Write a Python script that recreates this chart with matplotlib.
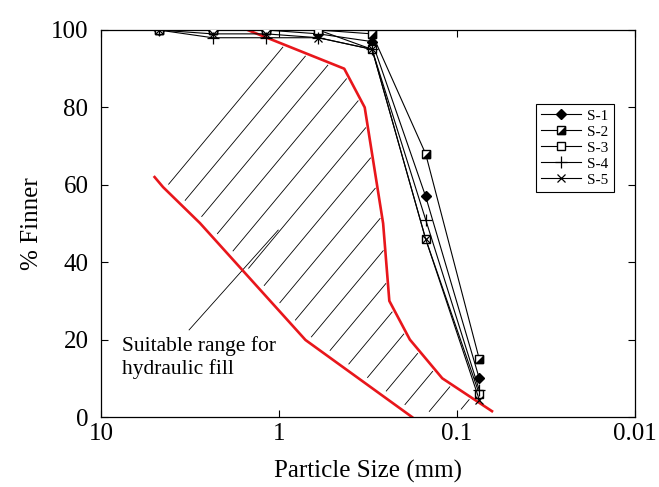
import numpy as np
import matplotlib
matplotlib.use('Agg')
from matplotlib import pyplot as plt
from matplotlib.ticker import NullLocator
from matplotlib.legend_handler import HandlerTuple

plt.rcParams['font.family'] = ['Liberation Serif', 'DejaVu Serif']

# sieve sizes (mm) and % finer for each sample
sizes = [4.75, 2.36, 1.18, 0.6, 0.3, 0.15, 0.075]
s1 = [100, 100, 100, 99, 97, 57, 10]
s2 = [100, 100, 100, 100, 99, 68, 15]
s3 = [100, 100, 100, 100, 95, 46, 6]
s4 = [100, 98, 98, 98, 95, 51, 7]
s5 = [100, 99, 99, 98, 95, 46, 4.5]

# envelope of the suitable range for hydraulic fill
fine_x = [1.5, 0.43, 0.33, 0.26, 0.24, 0.184, 0.121, 0.0636]
fine_y = [100, 90, 80, 50, 30, 20, 10, 1.5]
coarse_x = [5.0, 4.48, 2.78, 0.71, 0.179]
coarse_y = [62, 59.4, 50.1, 19.9, 0]

# leader line from the note into the hatched band
note_x = [3.2, 1.01]
note_y = [22.5, 48.3]

RED = '#e8161b'

fig = plt.figure(figsize=(6.59, 4.87), dpi=100)
ax = fig.add_axes([101/659, 70/487, 534/659, 387/487])
ax.set_xscale('log')
ax.set_xlim(10, 0.01)
ax.set_ylim(0, 100)

# hatch the band with parallel strokes (worked out in pixel space)
env = np.column_stack([coarse_x + fine_x[::-1], coarse_y + fine_y[::-1]])
poly = ax.transData.transform(env)
poly = np.vstack([poly, poly[:1]])
slope = 1.2       # pixel slope of the strokes
gap = 30          # horizontal gap between strokes, px
c = poly[0][1] - slope*poly[0][0] - 24
cmin = (poly[:, 1] - slope*poly[:, 0]).min()
inv = ax.transData.inverted()
d = np.array([1.0, slope]) / np.hypot(1.0, slope)
while c > cmin:
    xs = []
    for p, q in zip(poly[:-1], poly[1:]):
        fp = p[1] - slope*p[0] - c
        fq = q[1] - slope*q[0] - c
        if fp*fq < 0:
            t = fp/(fp - fq)
            xs.append(p[0] + t*(q[0] - p[0]))
    xs.sort()
    for a, b in zip(xs[0::2], xs[1::2]):
        pa = np.array([a, slope*a + c]) + 6*d
        pb = np.array([b, slope*b + c]) - 3*d
        if (pb - pa)[0] > 2:
            seg = inv.transform(np.vstack([pa, pb]))
            ax.plot(seg[:, 0], seg[:, 1], color='black', lw=0.6, zorder=1)
    c -= slope*gap

ax.plot(coarse_x, coarse_y, color=RED, lw=1.9, zorder=2)
ax.plot(fine_x, fine_y, color=RED, lw=1.9, zorder=2)
ax.plot(note_x, note_y, color='black', lw=0.6, zorder=1)
ax.text(7.6, 20.8, 'Suitable range for\nhydraulic fill', fontsize=15.5,
        va='top', ha='left', linespacing=1.2)

ms = 6
kw = dict(color='black', lw=0.8, zorder=3)
h1, = ax.plot(sizes, s1, marker='D', ms=ms-0.5, mfc='black', **kw)
h2a, = ax.plot(sizes, s2, marker='s', ms=ms, mfc='white', **kw)
h2b, = ax.plot(sizes, s2, marker=[(-1, -1), (1, -1), (1, 1)], ms=ms,
               mfc='black', mec='black', ls='none', zorder=3)
h3, = ax.plot(sizes, s3, marker='s', ms=ms, mfc='white', **kw)
h4, = ax.plot(sizes, s4, marker='+', ms=ms+2, mew=0.9, **kw)
h5, = ax.plot(sizes, s5, marker='x', ms=ms, mew=0.9, **kw)

leg = ax.legend([h1, (h2a, h2b), h3, h4, h5], ['S-1', 'S-2', 'S-3', 'S-4', 'S-5'],
                handler_map={tuple: HandlerTuple(ndivide=1)},
                loc='upper right', bbox_to_anchor=(0.96, 0.81), fontsize=11,
                frameon=True, fancybox=False, framealpha=1, edgecolor='black',
                borderpad=0.35, labelspacing=0.15, handlelength=2.6,
                handletextpad=0.4, borderaxespad=0)
leg.get_frame().set_linewidth(0.8)

ax.set_xticks([10, 1, 0.1, 0.01])
ax.set_xticklabels(['10', '1', '0.1', '0.01'])
ax.xaxis.set_minor_locator(NullLocator())
ax.set_yticks(range(0, 101, 20))
ax.tick_params(direction='in', top=True, right=True, length=5, width=0.8,
               labelsize=18)
ax.tick_params(axis='x', pad=4)
ax.tick_params(axis='y', pad=9)
for sp in ax.spines.values():
    sp.set_linewidth(0.9)

ax.set_xlabel('Particle Size (mm)', fontsize=18, labelpad=11)
ax.set_ylabel('% Finner', fontsize=18, labelpad=6)

fig.savefig('out.png', dpi=100)
